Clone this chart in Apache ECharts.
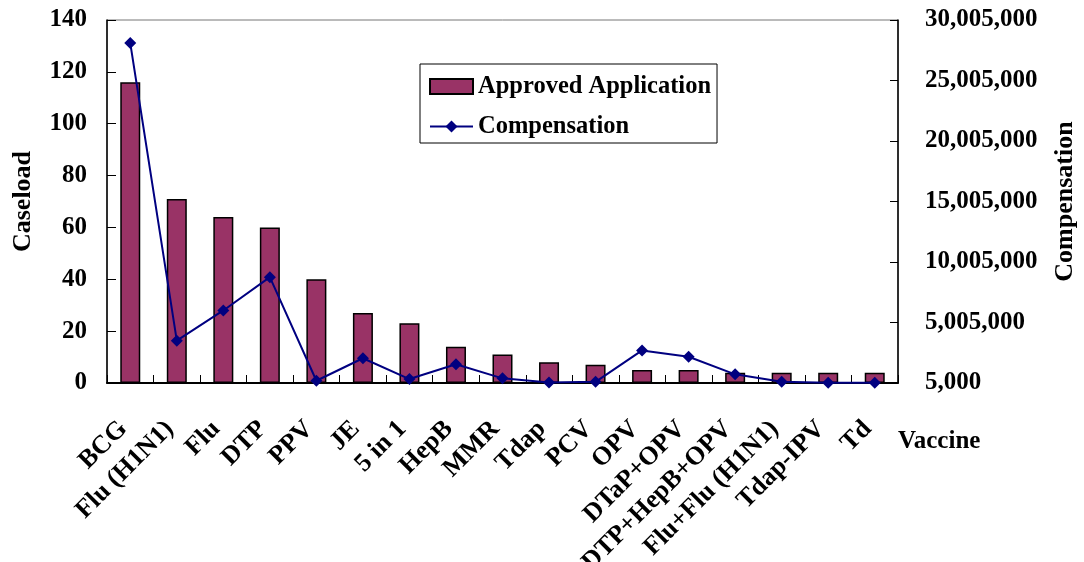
<!DOCTYPE html>
<html>
<head>
<meta charset="utf-8">
<script src="https://cdn.jsdelivr.net/npm/echarts@6/dist/echarts.min.js"></script>
<style>html,body{margin:0;padding:0;background:#fff;}#chart{width:1084px;height:562px;}</style>
</head>
<body>
<div id="chart"></div>
<script>
var categories = ['BCG','Flu (H1N1)','Flu','DTP','PPV','JE','5 in 1','HepB','MMR','Tdap','PCV','OPV','DTaP+OPV','DTP+HepB+OPV','Flu+Flu (H1N1)','Tdap-IPV','Td'];
var approvedApplication = [116,71,64,60,40,27,23,14,11,8,7,5,5,4,4,4,4];
var compensation = [28100000,3500000,6000000,8750000,190000,2050000,330000,1550000,390000,50000,100000,2700000,2170000,720000,100000,30000,30000];
var leftTicks = {min:0, max:140, interval:20};
var rightTicks = {min:5000, max:30005000, interval:5000000};

function commas(v){ return String(Math.round(v)).replace(/\B(?=(\d{3})+(?!\d))/g, ','); }

var font = 'Liberation Serif';
var chart = echarts.init(document.getElementById('chart'));
chart.setOption({
  animation:false,
  textStyle:{fontFamily:font, fontWeight:'bold', color:'#000'},
  title:{text:'Vaccine', left:893, top:424, textStyle:{fontFamily:font, fontWeight:'bold', fontSize:25, color:'#000'}},
  legend:{
    orient:'vertical', left:420, top:64,
    padding:[10,6,4,9], itemGap:15, itemWidth:43, itemHeight:15,
    borderColor:'#000', borderWidth:1, backgroundColor:'#fff',
    textStyle:{fontFamily:font, fontWeight:'bold', fontSize:24.5, color:'#000'},
    data:[{name:'Approved Application', icon:'rect'},{name:'Compensation'}]
  },
  grid:{left:107, right:186, top:20, bottom:179, containLabel:false, outerBoundsMode:'none', show:true, borderColor:'#777', borderWidth:1},
  xAxis:{
    type:'category', data:categories, boundaryGap:true,
    axisLine:{lineStyle:{color:'#000', width:2}},
    axisTick:{show:true, inside:true, length:8, alignWithLabel:false, lineStyle:{color:'#000'}},
    axisLabel:{interval:0, rotate:45, margin:35, padding:[0,10,28,0], fontSize:26, fontFamily:font, fontWeight:'bold', color:'#000'}
  },
  yAxis:[{
    type:'value', min:leftTicks.min, max:leftTicks.max, interval:leftTicks.interval,
    name:'Caseload', nameLocation:'middle', nameGap:71,
    nameTextStyle:{fontFamily:font, fontWeight:'bold', fontSize:26, color:'#000'},
    axisLine:{show:true, lineStyle:{color:'#000', width:1.5}},
    axisTick:{show:true, inside:true, length:9, lineStyle:{color:'#000'}},
    axisLabel:{margin:20, fontSize:25, fontFamily:font, fontWeight:'bold', color:'#000'},
    splitLine:{show:false}
  },{
    type:'value', position:'right', min:rightTicks.min, max:rightTicks.max, interval:rightTicks.interval,
    name:'Compensation', nameLocation:'middle', nameGap:154,
    nameTextStyle:{fontFamily:font, fontWeight:'bold', fontSize:26, color:'#000'},
    axisLine:{show:true, lineStyle:{color:'#000', width:1.5}},
    axisTick:{show:true, inside:true, length:8, lineStyle:{color:'#000'}},
    axisLabel:{margin:27, fontSize:25, fontFamily:font, fontWeight:'bold', color:'#000', formatter:commas},
    splitLine:{show:false}
  }],
  series:[{
    name:'Approved Application', type:'bar', yAxisIndex:0, data:approvedApplication, barWidth:20,
    itemStyle:{color:'#993366', borderColor:'#000', borderWidth:1.5}
  },{
    name:'Compensation', type:'line', yAxisIndex:1, data:compensation,
    symbol:'diamond', symbolSize:12,
    lineStyle:{color:'#000080', width:2}, itemStyle:{color:'#000080'}
  }]
});
</script>
</body>
</html>
